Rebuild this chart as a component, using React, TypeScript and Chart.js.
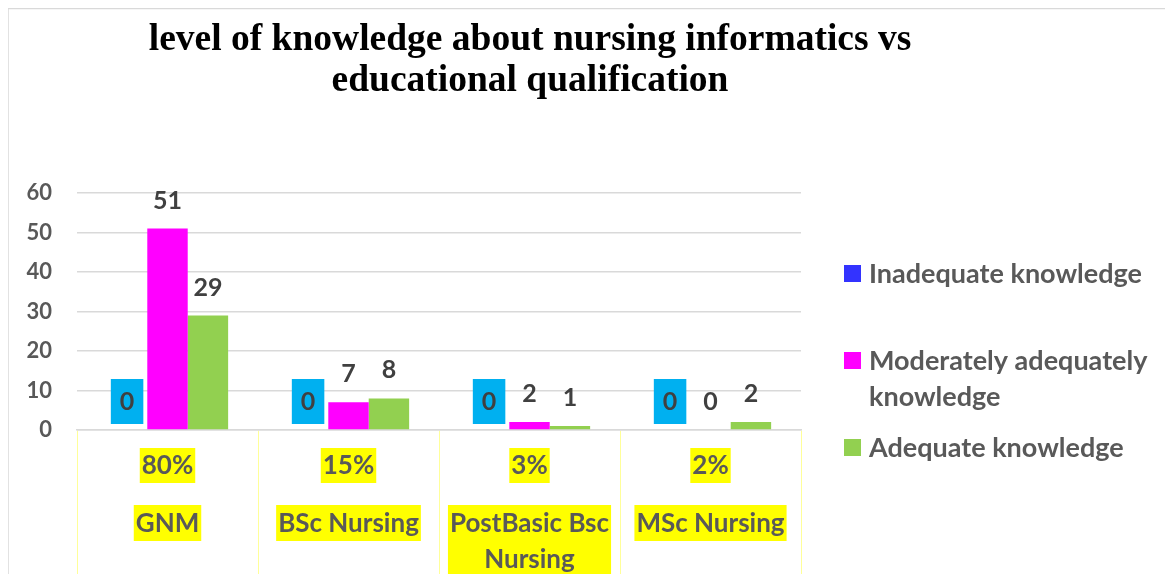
import React, { useEffect, useRef } from "react";
import { Chart, registerables } from "chart.js";

Chart.register(...registerables);

const categories = ["GNM", "BSc Nursing", "PostBasic Bsc Nursing", "MSc Nursing"];
const categoryLines = [["GNM"], ["BSc Nursing"], ["PostBasic Bsc", "Nursing"], ["MSc Nursing"]];
const percentLabels = ["80%", "15%", "3%", "2%"];
const inadequate = [0, 0, 0, 0];
const moderate = [51, 7, 2, 0];
const adequate = [29, 8, 1, 2];
const seriesNames = ["Inadequate knowledge", "Moderately adequately knowledge", "Adequate knowledge"];
const legendLines = [["Inadequate knowledge"], ["Moderately adequately", "knowledge"], ["Adequate knowledge"]];
const seriesColors = ["#3333FF", "#FF00FF", "#92D050"];
const yMin = 0;
const yMax = 60;
const yStep = 10;
const titleLines = ["level of knowledge about nursing informatics vs", "educational qualification"];

const W = 1157;
const H = 574;

const drawPlugin = {
  id: "customDraw",
  afterDraw(chart: any) {
    const ctx = chart.ctx;
    ctx.save();
    // frame
    ctx.strokeStyle = "#d9d9d9";
    ctx.lineWidth = 1.5;
    ctx.beginPath();
    ctx.moveTo(0, H);
    ctx.lineTo(0, 0.5);
    ctx.lineTo(W, 0.5);
    ctx.stroke();

    // title
    ctx.fillStyle = "#000000";
    ctx.font = "bold 37.5px 'Liberation Serif'";
    ctx.textAlign = "center";
    ctx.textBaseline = "alphabetic";
    ctx.fillText(titleLines[0], 522, 42);
    ctx.fillText(titleLines[1], 522, 83);

    // data labels
    ctx.font = "bold 25px Lato";
    ctx.textAlign = "center";
    ctx.textBaseline = "middle";
    chart.data.datasets.forEach((ds: any, i: number) => {
      const meta = chart.getDatasetMeta(i);
      meta.data.forEach((el: any, j: number) => {
        const v = ds.data[j];
        const txt = String(v);
        const cx = el.x;
        const cy = el.y - 29;
        if (i === 0) {
          const tw = ctx.measureText(txt).width;
          ctx.fillStyle = "#00B0F0";
          ctx.fillRect(cx - tw / 2 - 9, cy - 22, tw + 18, 45);
        }
        ctx.fillStyle = "#404040";
        ctx.fillText(txt, cx, cy + 1);
      });
    });

    // x labels
    const xs = chart.scales.x;
    ctx.font = "bold 26px Lato";
    categories.forEach((c, j) => {
      const cx = xs.getPixelForValue(j);
      const p = percentLabels[j];
      const pw = ctx.measureText(p).width;
      ctx.fillStyle = "#FFFF00";
      ctx.fillRect(cx - pw / 2 - 2, 440, pw + 4, 35);
      ctx.fillStyle = "#595959";
      ctx.fillText(p, cx, 458);
      const lines = categoryLines[j];
      const mw = Math.max(...lines.map((l) => ctx.measureText(l).width));
      ctx.fillStyle = "#FFFF00";
      ctx.fillRect(cx - mw / 2 - 2, 497, mw + 4, 36 * lines.length);
      ctx.fillStyle = "#595959";
      lines.forEach((l, k) => ctx.fillText(l, cx, 516 + k * 36));
    });

    // legend
    const itemY = [[265], [352, 388], [439]];
    ctx.font = "bold 27px Lato";
    ctx.textAlign = "left";
    legendLines.forEach((lines, i) => {
      ctx.fillStyle = seriesColors[i];
      ctx.fillRect(836, itemY[i][0] - 8, 17, 17);
      ctx.fillStyle = "#595959";
      lines.forEach((l, k) => ctx.fillText(l, 861, itemY[i][k] + 1));
    });
    ctx.restore();
  },
};

export default function App() {
  const ref = useRef<HTMLCanvasElement | null>(null);
  useEffect(() => {
    document.body.style.overflow = "hidden";
    const chart = new Chart(ref.current as HTMLCanvasElement, {
      type: "bar",
      data: {
        labels: categories,
        datasets: [
          { label: seriesNames[0], data: inadequate, backgroundColor: seriesColors[0] },
          { label: seriesNames[1], data: moderate, backgroundColor: seriesColors[1] },
          { label: seriesNames[2], data: adequate, backgroundColor: seriesColors[2] },
        ],
      },
      options: {
        responsive: false,
        animation: false,
        layout: { padding: { top: 185, right: W - 793, left: 0, bottom: 0 } },
        datasets: { bar: { categoryPercentage: 0.67, barPercentage: 1.0 } },
        plugins: { legend: { display: false }, title: { display: false }, tooltip: { enabled: false } },
        scales: {
          x: {
            offset: true,
            grid: {
              offset: true,
              drawOnChartArea: false,
              drawTicks: true,
              tickLength: 152,
              color: "#FFFF99",
              lineWidth: 1,
            },
            border: { display: true, color: "#d9d9d9", width: 1.5 },
            ticks: { display: false },
          },
          y: {
            min: yMin,
            max: yMax,
            ticks: {
              stepSize: yStep,
              color: "#595959",
              font: { family: "Lato", size: 22, weight: "bold" },
              padding: 25,
            },
            grid: { color: "#d9d9d9", lineWidth: 1.5, drawTicks: false },
            border: { display: false },
            afterFit: (s: any) => {
              s.width = 69;
            },
          },
        },
      },
      plugins: [drawPlugin],
    });
    return () => chart.destroy();
  }, []);
  return (
    <div style={{ width: W, height: H, marginBottom: -8 }}>
      <canvas ref={ref} width={W} height={H} style={{ display: "block" }} />
    </div>
  );
}
